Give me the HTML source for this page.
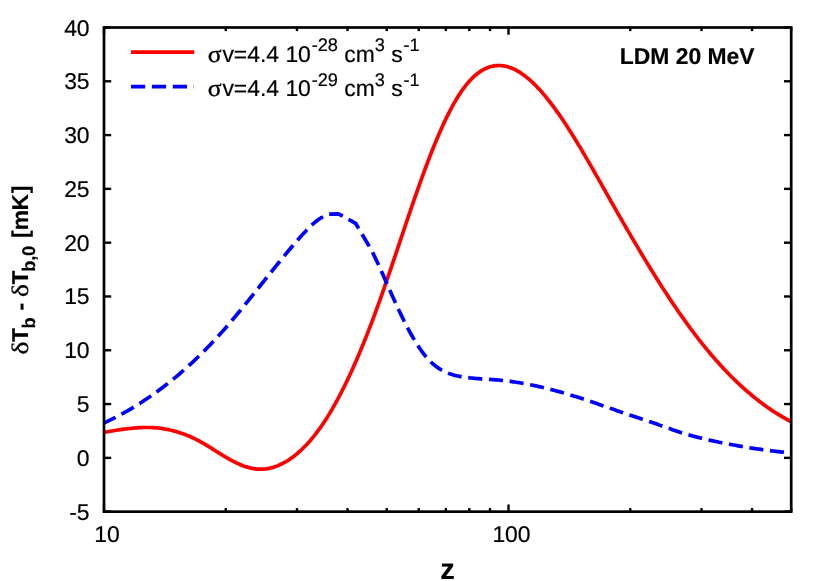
<!DOCTYPE html>
<html><head><meta charset="utf-8"><title>plot</title>
<style>
html,body{margin:0;padding:0;background:#fff;}
svg{display:block;will-change:transform;text-rendering:geometricPrecision;font-family:"Liberation Sans",sans-serif;}
.sym{font-family:"Liberation Serif",serif;}
</style></head>
<body>
<svg width="830" height="581" viewBox="0 0 830 581">
<rect x="0" y="0" width="830" height="581" fill="#ffffff"/>
<g fill="none" stroke-linejoin="round">
<path d="M104.0,432.3 L105.5,432.0 L107.0,431.8 L108.5,431.5 L110.0,431.3 L111.5,431.0 L113.0,430.8 L114.5,430.5 L116.0,430.3 L117.5,430.0 L119.0,429.8 L120.5,429.6 L122.0,429.4 L123.5,429.2 L125.0,429.0 L126.5,428.8 L128.0,428.6 L129.5,428.5 L131.0,428.3 L132.5,428.2 L134.0,428.0 L135.5,427.9 L137.0,427.8 L138.5,427.7 L140.0,427.6 L141.5,427.6 L143.0,427.5 L144.5,427.5 L146.0,427.5 L147.5,427.5 L149.0,427.5 L150.5,427.5 L152.0,427.6 L153.5,427.7 L155.0,427.8 L156.5,427.9 L158.0,428.0 L159.5,428.2 L161.0,428.4 L162.5,428.6 L164.0,428.8 L165.5,429.1 L167.0,429.3 L168.5,429.6 L170.0,430.0 L171.5,430.3 L173.0,430.7 L174.5,431.1 L176.0,431.5 L177.5,431.9 L179.0,432.4 L180.5,432.9 L182.0,433.4 L183.5,433.9 L185.0,434.5 L186.5,435.1 L188.0,435.7 L189.5,436.3 L191.0,437.0 L192.5,437.7 L194.0,438.4 L195.5,439.1 L197.0,439.9 L198.5,440.7 L200.0,441.5 L201.5,442.3 L203.0,443.2 L204.5,444.0 L206.0,444.9 L207.5,445.8 L209.0,446.7 L210.5,447.7 L212.0,448.6 L213.5,449.6 L215.0,450.5 L216.5,451.5 L218.0,452.4 L219.5,453.3 L221.0,454.3 L222.5,455.2 L224.0,456.1 L225.5,457.0 L227.0,457.9 L228.5,458.7 L230.0,459.6 L231.5,460.4 L233.0,461.2 L234.5,461.9 L236.0,462.7 L237.5,463.4 L239.0,464.0 L240.5,464.7 L242.0,465.3 L243.5,465.9 L245.0,466.4 L246.5,466.9 L248.0,467.3 L249.5,467.8 L251.0,468.1 L252.5,468.4 L254.0,468.7 L255.5,468.9 L257.0,469.1 L258.5,469.2 L260.0,469.2 L261.5,469.2 L263.0,469.2 L264.5,469.0 L266.0,468.9 L267.5,468.6 L269.0,468.4 L270.5,468.0 L272.0,467.6 L273.5,467.2 L275.0,466.7 L276.5,466.2 L278.0,465.6 L279.5,464.9 L281.0,464.2 L282.5,463.5 L284.0,462.7 L285.5,461.9 L287.0,461.0 L288.5,460.0 L290.0,459.1 L291.5,458.0 L293.0,456.9 L294.5,455.8 L296.0,454.6 L297.5,453.3 L299.0,452.0 L300.5,450.7 L302.0,449.3 L303.5,447.8 L305.0,446.3 L306.5,444.8 L308.0,443.1 L309.5,441.5 L311.0,439.7 L312.5,437.9 L314.0,436.1 L315.5,434.2 L317.0,432.2 L318.5,430.2 L320.0,428.1 L321.5,426.0 L323.0,423.8 L324.5,421.6 L326.0,419.2 L327.5,416.9 L329.0,414.4 L330.5,412.0 L332.0,409.4 L333.5,406.8 L335.0,404.2 L336.5,401.4 L338.0,398.7 L339.5,395.8 L341.0,393.0 L342.5,390.0 L344.0,387.0 L345.5,384.0 L347.0,380.9 L348.5,377.7 L350.0,374.5 L351.5,371.3 L353.0,368.0 L354.5,364.6 L356.0,361.2 L357.5,357.7 L359.0,354.2 L360.5,350.6 L362.0,347.0 L363.5,343.4 L365.0,339.6 L366.5,335.9 L368.0,332.1 L369.5,328.2 L371.0,324.3 L372.5,320.3 L374.0,316.3 L375.5,312.3 L377.0,308.2 L378.5,304.0 L380.0,299.8 L381.5,295.6 L383.0,291.3 L384.5,287.0 L386.0,282.7 L387.5,278.4 L389.0,274.0 L390.5,269.6 L392.0,265.2 L393.5,260.7 L395.0,256.3 L396.5,251.8 L398.0,247.4 L399.5,242.9 L401.0,238.4 L402.5,234.0 L404.0,229.5 L405.5,225.0 L407.0,220.6 L408.5,216.2 L410.0,211.8 L411.5,207.4 L413.0,203.0 L414.5,198.7 L416.0,194.4 L417.5,190.1 L419.0,185.9 L420.5,181.7 L422.0,177.5 L423.5,173.4 L425.0,169.3 L426.5,165.3 L428.0,161.3 L429.5,157.4 L431.0,153.5 L432.5,149.8 L434.0,146.0 L435.5,142.4 L437.0,138.8 L438.5,135.2 L440.0,131.8 L441.5,128.4 L443.0,125.1 L444.5,121.9 L446.0,118.7 L447.5,115.7 L449.0,112.7 L450.5,109.8 L452.0,107.0 L453.5,104.2 L455.0,101.6 L456.5,99.0 L458.0,96.6 L459.5,94.2 L461.0,92.0 L462.5,89.8 L464.0,87.8 L465.5,85.8 L467.0,83.9 L468.5,82.2 L470.0,80.5 L471.5,78.9 L473.0,77.4 L474.5,76.0 L476.0,74.7 L477.5,73.5 L479.0,72.4 L480.5,71.4 L482.0,70.4 L483.5,69.6 L485.0,68.8 L486.5,68.1 L488.0,67.5 L489.5,67.0 L491.0,66.5 L492.5,66.2 L494.0,65.9 L495.5,65.7 L497.0,65.6 L498.5,65.5 L500.0,65.5 L501.5,65.6 L503.0,65.8 L504.5,66.0 L506.0,66.3 L507.5,66.7 L509.0,67.2 L510.5,67.7 L512.0,68.3 L513.5,68.9 L515.0,69.6 L516.5,70.4 L518.0,71.3 L519.5,72.2 L521.0,73.1 L522.5,74.2 L524.0,75.2 L525.5,76.4 L527.0,77.6 L528.5,78.8 L530.0,80.1 L531.5,81.5 L533.0,82.9 L534.5,84.3 L536.0,85.8 L537.5,87.4 L539.0,89.0 L540.5,90.6 L542.0,92.3 L543.5,94.1 L545.0,95.9 L546.5,97.7 L548.0,99.6 L549.5,101.5 L551.0,103.4 L552.5,105.4 L554.0,107.4 L555.5,109.5 L557.0,111.6 L558.5,113.7 L560.0,115.9 L561.5,118.0 L563.0,120.3 L564.5,122.5 L566.0,124.8 L567.5,127.1 L569.0,129.4 L570.5,131.8 L572.0,134.2 L573.5,136.6 L575.0,139.0 L576.5,141.5 L578.0,143.9 L579.5,146.4 L581.0,148.9 L582.5,151.5 L584.0,154.0 L585.5,156.6 L587.0,159.1 L588.5,161.7 L590.0,164.3 L591.5,166.9 L593.0,169.5 L594.5,172.2 L596.0,174.8 L597.5,177.4 L599.0,180.1 L600.5,182.7 L602.0,185.4 L603.5,188.0 L605.0,190.7 L606.5,193.3 L608.0,196.0 L609.5,198.6 L611.0,201.3 L612.5,203.9 L614.0,206.6 L615.5,209.2 L617.0,211.8 L618.5,214.5 L620.0,217.1 L621.5,219.7 L623.0,222.3 L624.5,224.9 L626.0,227.5 L627.5,230.1 L629.0,232.6 L630.5,235.2 L632.0,237.8 L633.5,240.3 L635.0,242.9 L636.5,245.4 L638.0,247.9 L639.5,250.4 L641.0,253.0 L642.5,255.4 L644.0,257.9 L645.5,260.4 L647.0,262.9 L648.5,265.3 L650.0,267.8 L651.5,270.2 L653.0,272.6 L654.5,275.0 L656.0,277.4 L657.5,279.8 L659.0,282.2 L660.5,284.5 L662.0,286.9 L663.5,289.2 L665.0,291.5 L666.5,293.8 L668.0,296.1 L669.5,298.4 L671.0,300.6 L672.5,302.9 L674.0,305.1 L675.5,307.3 L677.0,309.5 L678.5,311.7 L680.0,313.8 L681.5,316.0 L683.0,318.1 L684.5,320.2 L686.0,322.3 L687.5,324.4 L689.0,326.4 L690.5,328.5 L692.0,330.5 L693.5,332.5 L695.0,334.5 L696.5,336.4 L698.0,338.4 L699.5,340.3 L701.0,342.2 L702.5,344.1 L704.0,345.9 L705.5,347.8 L707.0,349.6 L708.5,351.4 L710.0,353.2 L711.5,355.0 L713.0,356.7 L714.5,358.4 L716.0,360.2 L717.5,361.8 L719.0,363.5 L720.5,365.2 L722.0,366.8 L723.5,368.4 L725.0,370.0 L726.5,371.6 L728.0,373.1 L729.5,374.7 L731.0,376.2 L732.5,377.7 L734.0,379.2 L735.5,380.6 L737.0,382.1 L738.5,383.5 L740.0,384.9 L741.5,386.3 L743.0,387.7 L744.5,389.0 L746.0,390.3 L747.5,391.6 L749.0,392.9 L750.5,394.2 L752.0,395.5 L753.5,396.7 L755.0,397.9 L756.5,399.1 L758.0,400.3 L759.5,401.5 L761.0,402.6 L762.5,403.7 L764.0,404.8 L765.5,405.9 L767.0,407.0 L768.5,408.0 L770.0,409.1 L771.5,410.1 L773.0,411.1 L774.5,412.0 L776.0,413.0 L777.5,413.9 L779.0,414.8 L780.5,415.7 L782.0,416.6 L783.5,417.5 L785.0,418.3 L786.5,419.2 L788.0,420.0 L789.5,420.8 L791.0,421.5 L791.2,421.6" stroke="#ff0000" stroke-width="3.7" stroke-linecap="butt"/>
<path d="M104.0,423.0 L105.5,422.3 L107.0,421.6 L108.5,420.8 L110.0,420.1 L111.5,419.4 L113.0,418.6 L114.5,417.9 L116.0,417.1 L117.5,416.3 L119.0,415.5 L120.5,414.7 L122.0,413.9 L123.5,413.1 L125.0,412.2 L126.5,411.4 L128.0,410.5 L129.5,409.7 L131.0,408.8 L132.5,407.9 L134.0,407.0 L135.5,406.1 L137.0,405.1 L138.5,404.2 L140.0,403.3 L141.5,402.3 L143.0,401.3 L144.5,400.3 L146.0,399.3 L147.5,398.3 L149.0,397.3 L150.5,396.3 L152.0,395.2 L153.5,394.2 L155.0,393.1 L156.5,392.0 L158.0,390.9 L159.5,389.8 L161.0,388.7 L162.5,387.6 L164.0,386.5 L165.5,385.3 L167.0,384.1 L168.5,382.9 L170.0,381.8 L171.5,380.5 L173.0,379.3 L174.5,378.1 L176.0,376.9 L177.5,375.6 L179.0,374.3 L180.5,373.0 L182.0,371.7 L183.5,370.4 L185.0,369.1 L186.5,367.8 L188.0,366.4 L189.5,365.0 L191.0,363.7 L192.5,362.3 L194.0,360.9 L195.5,359.4 L197.0,358.0 L198.5,356.5 L200.0,355.1 L201.5,353.6 L203.0,352.1 L204.5,350.6 L206.0,349.1 L207.5,347.5 L209.0,346.0 L210.5,344.4 L212.0,342.8 L213.5,341.3 L215.0,339.6 L216.5,338.0 L218.0,336.4 L219.5,334.7 L221.0,333.1 L222.5,331.4 L224.0,329.7 L225.5,328.0 L227.0,326.2 L228.5,324.5 L230.0,322.7 L231.5,321.0 L233.0,319.2 L234.5,317.4 L236.0,315.6 L237.5,313.8 L239.0,312.0 L240.5,310.2 L242.0,308.4 L243.5,306.5 L245.0,304.7 L246.5,302.8 L248.0,301.0 L249.5,299.1 L251.0,297.2 L252.5,295.4 L254.0,293.5 L255.5,291.6 L257.0,289.8 L258.5,287.9 L260.0,286.0 L261.5,284.1 L263.0,282.2 L264.5,280.4 L266.0,278.5 L267.5,276.6 L269.0,274.7 L270.5,272.8 L272.0,271.0 L273.5,269.1 L275.0,267.3 L276.5,265.4 L278.0,263.5 L279.5,261.7 L281.0,259.9 L282.5,258.0 L284.0,256.2 L285.5,254.4 L287.0,252.6 L288.5,250.8 L290.0,249.0 L291.5,247.2 L293.0,245.5 L294.5,243.7 L296.0,242.0 L297.5,240.2 L299.0,238.5 L300.5,236.8 L302.0,235.1 L303.5,233.5 L305.0,231.9 L306.5,230.3 L308.0,228.7 L309.5,227.3 L311.0,225.8 L312.5,224.4 L314.0,223.1 L315.5,221.8 L317.0,220.7 L318.5,219.6 L320.0,218.5 L321.5,217.6 L329.0,214.2 L338.4,213.8 L355.6,223.3 L372.1,251.2 L378.5,264.8 L380.0,268.1 L381.5,271.4 L383.0,274.8 L384.5,278.2 L386.0,281.6 L387.5,285.1 L389.0,288.5 L390.5,291.8 L392.0,295.2 L393.5,298.5 L395.0,301.8 L396.5,305.1 L398.0,308.3 L399.5,311.5 L401.0,314.6 L402.5,317.7 L404.0,320.8 L405.5,323.7 L407.0,326.6 L408.5,329.5 L410.0,332.3 L411.5,335.0 L413.0,337.6 L414.5,340.1 L416.0,342.6 L417.5,345.0 L419.0,347.3 L420.5,349.5 L422.0,351.6 L423.5,353.6 L425.0,355.5 L426.5,357.3 L428.0,359.0 L429.5,360.6 L431.0,362.1 L432.5,363.5 L434.0,364.7 L435.5,366.0 L437.0,367.1 L438.5,368.1 L440.0,369.1 L441.5,370.0 L443.0,370.8 L444.5,371.6 L446.0,372.3 L447.5,372.9 L449.0,373.5 L450.5,374.0 L452.0,374.5 L453.5,375.0 L455.0,375.4 L456.5,375.7 L458.0,376.0 L459.5,376.4 L461.0,376.6 L462.5,376.9 L464.0,377.1 L465.5,377.3 L467.0,377.5 L468.5,377.7 L470.0,377.9 L471.5,378.0 L473.0,378.2 L474.5,378.3 L476.0,378.5 L477.5,378.6 L479.0,378.7 L480.5,378.8 L482.0,378.9 L483.5,379.0 L485.0,379.1 L486.5,379.2 L488.0,379.3 L489.5,379.4 L491.0,379.5 L492.5,379.6 L494.0,379.7 L495.5,379.8 L497.0,379.9 L498.5,380.0 L500.0,380.2 L501.5,380.3 L503.0,380.5 L504.5,380.7 L506.0,380.8 L507.5,381.0 L509.0,381.2 L510.5,381.4 L512.0,381.6 L513.5,381.8 L515.0,382.0 L516.5,382.3 L518.0,382.5 L519.5,382.7 L521.0,383.0 L522.5,383.3 L524.0,383.5 L525.5,383.8 L527.0,384.1 L528.5,384.4 L530.0,384.7 L531.5,385.0 L533.0,385.3 L534.5,385.6 L536.0,385.9 L537.5,386.2 L539.0,386.6 L540.5,386.9 L542.0,387.3 L543.5,387.6 L545.0,388.0 L546.5,388.3 L548.0,388.7 L549.5,389.1 L551.0,389.5 L552.5,389.9 L554.0,390.3 L555.5,390.7 L557.0,391.1 L558.5,391.5 L560.0,391.9 L561.5,392.3 L563.0,392.8 L564.5,393.2 L566.0,393.6 L567.5,394.1 L569.0,394.5 L570.5,395.0 L572.0,395.4 L573.5,395.9 L575.0,396.4 L576.5,396.8 L578.0,397.3 L579.5,397.8 L581.0,398.3 L582.5,398.8 L584.0,399.3 L585.5,399.8 L587.0,400.3 L588.5,400.8 L590.0,401.3 L591.5,401.8 L593.0,402.3 L594.5,402.8 L596.0,403.3 L597.5,403.8 L599.0,404.4 L600.5,404.9 L602.0,405.4 L603.5,405.9 L605.0,406.5 L606.5,407.0 L608.0,407.5 L609.5,408.0 L611.0,408.6 L612.5,409.1 L614.0,409.6 L615.5,410.1 L617.0,410.7 L618.5,411.2 L620.0,411.7 L621.5,412.2 L623.0,412.7 L624.5,413.3 L626.0,413.8 L627.5,414.3 L629.0,414.8 L630.5,415.3 L632.0,415.8 L633.5,416.3 L635.0,416.8 L636.5,417.3 L638.0,417.8 L639.5,418.3 L641.0,418.8 L642.5,419.3 L644.0,419.8 L645.5,420.3 L647.0,420.8 L648.5,421.3 L650.0,421.8 L651.5,422.3 L653.0,422.8 L654.5,423.3 L656.0,423.8 L657.5,424.3 L659.0,424.9 L660.5,425.4 L662.0,425.9 L663.5,426.5 L665.0,427.0 L666.5,427.5 L668.0,428.1 L669.5,428.6 L671.0,429.1 L672.5,429.7 L674.0,430.2 L675.5,430.7 L677.0,431.2 L678.5,431.7 L680.0,432.2 L681.5,432.7 L683.0,433.1 L684.5,433.6 L686.0,434.1 L687.5,434.5 L689.0,434.9 L690.5,435.4 L692.0,435.8 L693.5,436.2 L695.0,436.6 L696.5,437.0 L698.0,437.4 L699.5,437.8 L701.0,438.1 L702.5,438.5 L704.0,438.9 L705.5,439.2 L707.0,439.6 L708.5,439.9 L710.0,440.2 L711.5,440.6 L713.0,440.9 L714.5,441.2 L716.0,441.5 L717.5,441.8 L719.0,442.2 L720.5,442.5 L722.0,442.8 L723.5,443.1 L725.0,443.3 L726.5,443.6 L728.0,443.9 L729.5,444.2 L731.0,444.5 L732.5,444.8 L734.0,445.0 L735.5,445.3 L737.0,445.6 L738.5,445.9 L740.0,446.1 L741.5,446.4 L743.0,446.6 L744.5,446.9 L746.0,447.1 L747.5,447.4 L749.0,447.6 L750.5,447.9 L752.0,448.1 L753.5,448.3 L755.0,448.6 L756.5,448.8 L758.0,449.0 L759.5,449.2 L761.0,449.4 L762.5,449.7 L764.0,449.9 L765.5,450.1 L767.0,450.3 L768.5,450.5 L770.0,450.7 L771.5,450.8 L773.0,451.0 L774.5,451.2 L776.0,451.4 L777.5,451.6 L779.0,451.7 L780.5,451.9 L782.0,452.1 L783.5,452.2 L785.0,452.4 L786.5,452.5 L788.0,452.7 L789.5,452.8 L791.0,452.9 L791.2,453.0" stroke="#0000ff" stroke-width="3.7" stroke-dasharray="14.12 6.66" stroke-dashoffset="1.2" stroke-linecap="butt"/>
<line x1="131" y1="52.2" x2="194.2" y2="52.2" stroke="#ff0000" stroke-width="3.8"/>
<line x1="131" y1="86.55" x2="194.0" y2="86.55" stroke="#0000ff" stroke-width="3.8" stroke-dasharray="14.2 6.7"/>
</g>
<g stroke="#000" stroke-width="2.4" fill="none" stroke-linecap="butt">
<line x1="104.00" y1="511.65" x2="104.00" y2="504.45"/>
<line x1="104.00" y1="27.50" x2="104.00" y2="34.70"/>
<line x1="508.50" y1="511.65" x2="508.50" y2="504.45"/>
<line x1="508.50" y1="27.50" x2="508.50" y2="34.70"/>
<line x1="225.77" y1="511.65" x2="225.77" y2="508.05"/>
<line x1="225.77" y1="27.50" x2="225.77" y2="31.10"/>
<line x1="297.00" y1="511.65" x2="297.00" y2="508.05"/>
<line x1="297.00" y1="27.50" x2="297.00" y2="31.10"/>
<line x1="347.53" y1="511.65" x2="347.53" y2="508.05"/>
<line x1="347.53" y1="27.50" x2="347.53" y2="31.10"/>
<line x1="386.73" y1="511.65" x2="386.73" y2="508.05"/>
<line x1="386.73" y1="27.50" x2="386.73" y2="31.10"/>
<line x1="418.76" y1="511.65" x2="418.76" y2="508.05"/>
<line x1="418.76" y1="27.50" x2="418.76" y2="31.10"/>
<line x1="445.84" y1="511.65" x2="445.84" y2="508.05"/>
<line x1="445.84" y1="27.50" x2="445.84" y2="31.10"/>
<line x1="469.30" y1="511.65" x2="469.30" y2="508.05"/>
<line x1="469.30" y1="27.50" x2="469.30" y2="31.10"/>
<line x1="489.99" y1="511.65" x2="489.99" y2="508.05"/>
<line x1="489.99" y1="27.50" x2="489.99" y2="31.10"/>
<line x1="630.27" y1="511.65" x2="630.27" y2="508.05"/>
<line x1="630.27" y1="27.50" x2="630.27" y2="31.10"/>
<line x1="701.50" y1="511.65" x2="701.50" y2="508.05"/>
<line x1="701.50" y1="27.50" x2="701.50" y2="31.10"/>
<line x1="752.03" y1="511.65" x2="752.03" y2="508.05"/>
<line x1="752.03" y1="27.50" x2="752.03" y2="31.10"/>
<line x1="791.23" y1="511.65" x2="791.23" y2="508.05"/>
<line x1="791.23" y1="27.50" x2="791.23" y2="31.10"/>
<line x1="104.00" y1="511.65" x2="111.20" y2="511.65"/>
<line x1="791.20" y1="511.65" x2="784.00" y2="511.65"/>
<line x1="104.00" y1="457.86" x2="111.20" y2="457.86"/>
<line x1="791.20" y1="457.86" x2="784.00" y2="457.86"/>
<line x1="104.00" y1="404.06" x2="111.20" y2="404.06"/>
<line x1="791.20" y1="404.06" x2="784.00" y2="404.06"/>
<line x1="104.00" y1="350.27" x2="111.20" y2="350.27"/>
<line x1="791.20" y1="350.27" x2="784.00" y2="350.27"/>
<line x1="104.00" y1="296.47" x2="111.20" y2="296.47"/>
<line x1="791.20" y1="296.47" x2="784.00" y2="296.47"/>
<line x1="104.00" y1="242.68" x2="111.20" y2="242.68"/>
<line x1="791.20" y1="242.68" x2="784.00" y2="242.68"/>
<line x1="104.00" y1="188.88" x2="111.20" y2="188.88"/>
<line x1="791.20" y1="188.88" x2="784.00" y2="188.88"/>
<line x1="104.00" y1="135.09" x2="111.20" y2="135.09"/>
<line x1="791.20" y1="135.09" x2="784.00" y2="135.09"/>
<line x1="104.00" y1="81.29" x2="111.20" y2="81.29"/>
<line x1="791.20" y1="81.29" x2="784.00" y2="81.29"/>
<line x1="104.00" y1="27.50" x2="111.20" y2="27.50"/>
<line x1="791.20" y1="27.50" x2="784.00" y2="27.50"/>
<rect x="104.0" y="27.5" width="687.20" height="484.15" stroke-width="2.7"/>
</g>
<g font-size="22.9px" fill="#000" stroke="#000" stroke-width="0.18">
<text x="89.6" y="519.65" text-anchor="end">-5</text>
<text x="89.6" y="465.86" text-anchor="end">0</text>
<text x="89.6" y="412.06" text-anchor="end">5</text>
<text x="89.6" y="358.27" text-anchor="end">10</text>
<text x="89.6" y="304.47" text-anchor="end">15</text>
<text x="89.6" y="250.68" text-anchor="end">20</text>
<text x="89.6" y="196.88" text-anchor="end">25</text>
<text x="89.6" y="143.09" text-anchor="end">30</text>
<text x="89.6" y="89.29" text-anchor="end">35</text>
<text x="89.6" y="35.50" text-anchor="end">40</text>
<text x="107.00" y="542.1" text-anchor="middle">10</text>
<text x="511.50" y="542.1" text-anchor="middle">100</text>
<text class="sym" transform="translate(207.7,61.7) scale(1.12,1.05)" stroke="#000" stroke-width="0.35">σ</text>
<text x="222.4" y="61.7">v=4.4 10<tspan font-size="18.2px" dy="-10.9" dx="0.8">-28</tspan><tspan dy="10.9"> cm</tspan><tspan font-size="18.2px" dy="-10.9">3</tspan><tspan dy="10.9"> s</tspan><tspan font-size="18.2px" dy="-10.9" dx="0.7">-1</tspan></text>
<text class="sym" transform="translate(207.7,96.4) scale(1.12,1.05)" stroke="#000" stroke-width="0.35">σ</text>
<text x="222.4" y="96.4">v=4.4 10<tspan font-size="18.2px" dy="-10.9" dx="0.8">-29</tspan><tspan dy="10.9"> cm</tspan><tspan font-size="18.2px" dy="-10.9">3</tspan><tspan dy="10.9"> s</tspan><tspan font-size="18.2px" dy="-10.9" dx="0.7">-1</tspan></text>
<text x="754.6" y="64.4" text-anchor="end" font-weight="bold">LDM 20 MeV</text>
<text x="447.4" y="578.8" text-anchor="middle" font-weight="bold" font-size="29px">z</text>
<g transform="translate(28.3,353.5) rotate(-90)" font-weight="bold">
<text class="sym" transform="translate(-1.05,0) scale(1.2,1.03)" font-weight="normal" stroke="#000" stroke-width="0.3">δ</text>
<text x="11.45" y="0">T</text>
<text x="25.0" y="7.1" font-size="18.3px">b</text>
<text x="42.9" y="0">-</text>
<text class="sym" transform="translate(56.55,0) scale(1.2,1.03)" font-weight="normal" stroke="#000" stroke-width="0.3">δ</text>
<text x="68.9" y="0">T</text>
<text x="81.8" y="7.1" font-size="18.3px">b</text>
<text x="92.8" y="7.1" font-size="18.3px">,</text>
<text x="97.5" y="7.1" font-size="18.3px">0</text>
<text x="115.45" y="0">[</text>
<text x="123.35" y="0">m</text>
<text x="142.9" y="0">K</text>
<text x="160.15" y="0">]</text>
</g>
</g>
</svg>
</body></html>
